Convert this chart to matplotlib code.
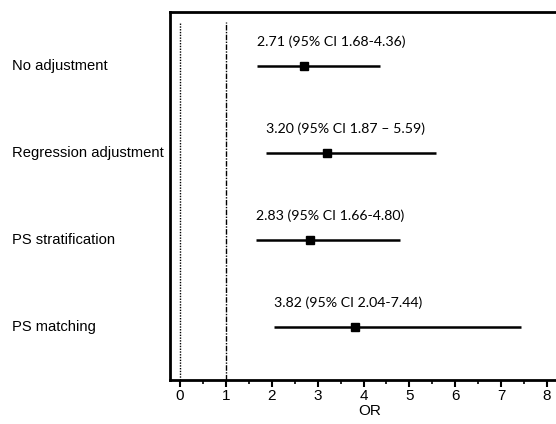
import matplotlib.pyplot as plt
from matplotlib.ticker import MultipleLocator

# Данні
methods = ['No adjustment', 'Regression adjustment', 'PS stratification', 'PS matching']
odds = [2.71, 3.20, 2.83, 3.82]
ci_low = [1.68, 1.87, 1.66, 2.04]
ci_high = [4.36, 5.59, 4.80, 7.44]
notes = ['2.71 (95% CI 1.68-4.36)', '3.20 (95% CI 1.87 \u2013 5.59)',
         '2.83 (95% CI 1.66-4.80)', '3.82 (95% CI 2.04-7.44)']

fig = plt.figure(figsize=(5.56, 4.24), dpi=100)
ax = fig.add_axes([170 / 556, 1 - 380 / 424, 400 / 556, 368 / 424])

x_left, x_right = -0.218, 8.50
ypos = [4, 3, 2, 1]
for y, m, lo, hi, txt in zip(ypos, odds, ci_low, ci_high, notes):
    ax.plot([lo, hi], [y, y], color='black', lw=1.8, solid_capstyle='butt')
    ax.plot(m, y, marker='s', color='black', ms=6)
    ax.text(lo, y + 0.28, txt, fontsize=10.2, family='Lato', va='center', ha='left')

ax.plot([0, 0], [0.39, 4.5], color='black', lw=1, ls=(0, (1, 1)))
ax.plot([1, 1], [0.39, 4.5], color='black', lw=1, ls=(0, (4, 1, 1, 1)))

ax.set_xlim(x_left, x_right)
ax.set_ylim(0.39, 4.62)
ax.set_yticks([])
# підписи методів зліва
for y, m in zip(ypos, methods):
    ax.text(12 / 556, fig.transFigure.inverted().transform(ax.transData.transform((0, y)))[1],
            m, fontsize=10.6, family='Liberation Sans', va='center', ha='left',
            transform=fig.transFigure)

ax.xaxis.set_major_locator(MultipleLocator(1))
ax.xaxis.set_minor_locator(MultipleLocator(0.5))
ax.tick_params(axis='x', which='major', length=5, width=1.5, labelsize=11, pad=1.5)
ax.tick_params(axis='x', which='minor', length=3, width=1.2)
for lbl in ax.get_xticklabels():
    lbl.set_family('Liberation Sans')
ax.set_xlabel('OR', family='Liberation Sans', fontsize=11, labelpad=1)

for s in ['left', 'bottom', 'top']:
    ax.spines[s].set_linewidth(2)
ax.spines['right'].set_visible(False)

fig.savefig('out.png', dpi=100)
